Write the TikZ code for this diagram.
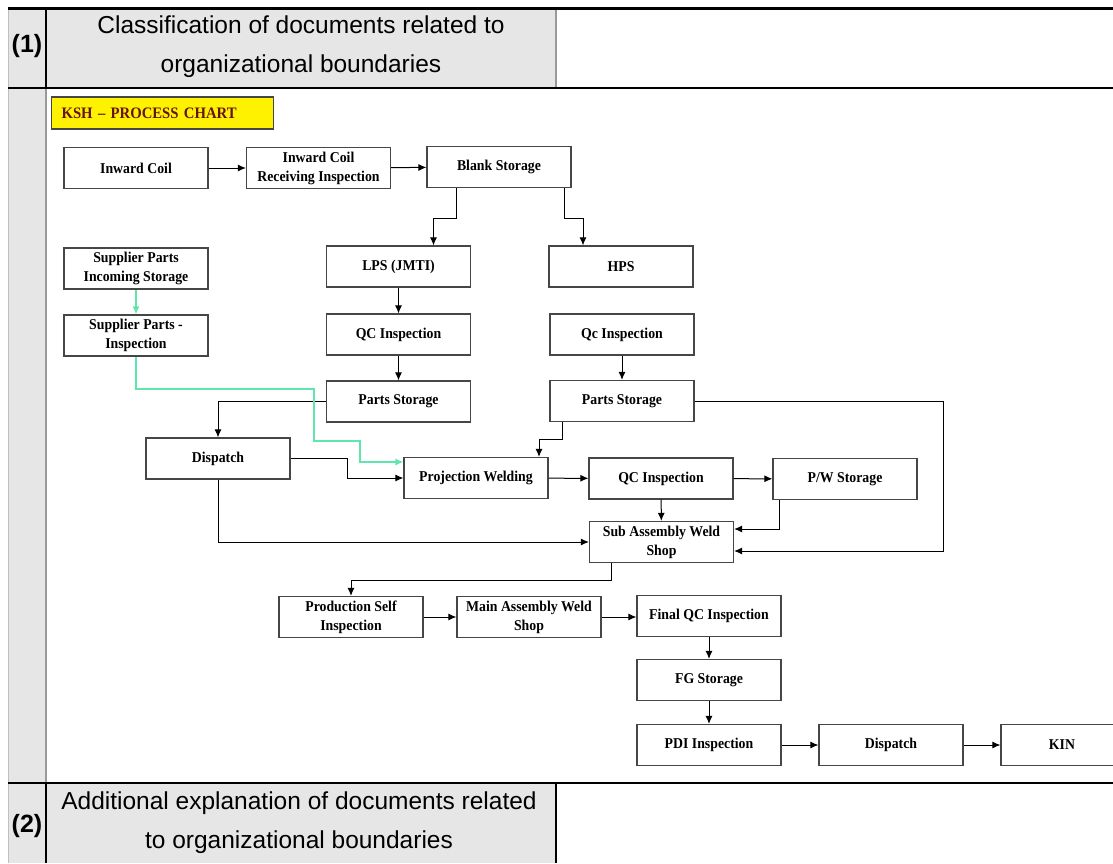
\documentclass[tikz,border=0pt]{standalone}
\usepackage{fontspec}
\setmainfont{Liberation Serif}
\setsansfont{Liberation Sans}
\newfontfamily\chartfont[FakeStretch=0.92, Ligatures=TeX]{Liberation Serif}
\usetikzlibrary{arrows.meta}
\definecolor{cellgray}{RGB}{230,230,230}
\definecolor{boxline}{RGB}{70,70,70}
\definecolor{mint}{RGB}{95,230,175}
\definecolor{titlered}{RGB}{100,20,20}

\begin{document}
\begin{tikzpicture}[x=0.5pt,y=-0.5pt,
    stepbox/.style={draw=boxline, line width=0.6pt, fill=white, minimum width=72pt, minimum height=20.5pt, inner sep=1pt, align=center, font=\chartfont\fontsize{7.5}{9.5}\selectfont\bfseries},
    headtext/.style={align=center, font=\sffamily\fontsize{12.25}{19.5}\selectfont},
    rownum/.style={font=\sffamily\bfseries\fontsize{12.5}{15}\selectfont},
    flow/.style={-{Latex[length=4pt,width=3.5pt]}, line width=0.5pt},
    greenflow/.style={flow, draw=mint, line width=0.6pt}]
  \useasboundingbox (0,0) rectangle (1113,863);
  \clip (0,0) rectangle (1113,863);

  \fill[cellgray] (8,8) rectangle (46,863);
  \fill[cellgray] (46,8) rectangle (556,88);
  \fill[cellgray] (46,783) rectangle (556,863);
  \draw[black!25, line width=0.5pt] (8,8) -- (8,863);
  \draw[line width=0.6pt] (46,8) -- (46,88);
  \draw[black!40, line width=0.6pt] (46,88) -- (46,783);
  \draw[line width=0.6pt] (46,783) -- (46,863);
  \draw[black!40, line width=0.6pt] (556,8) -- (556,88);
  \draw[line width=0.6pt] (556,783) -- (556,863);
  \draw[line width=1.5pt] (8,8) -- (1113,8);
  \draw[line width=0.75pt] (8,88) -- (1113,88);
  \draw[line width=1.1pt] (8,783) -- (556,783);
  \draw[line width=0.75pt] (556,783) -- (1113,783);

  \node (numone) [rownum] at (27,46) {(1)};
  \node (headone) [headtext] at (301,47) {Classification of documents related to\\organizational boundaries};
  \node (numtwo) [rownum] at (27,826) {(2)};
  \node (headtwo) [headtext] at (299,823) {Additional explanation of documents related\\to organizational boundaries};

  \node (title) [draw=boxline, line width=0.6pt, fill=yellow, anchor=west, text width=101pt, inner xsep=5pt, minimum height=16pt, align=left, text=titlered, font=\chartfont\fontsize{8}{9}\selectfont\bfseries] at (51,113) {KSH – PROCESS CHART};

  \begin{scope}[every node/.style={stepbox}]
    \node (inwcoil) at (136,168) {Inward Coil};
    \node (recinsp) at (318.5,168) {Inward Coil\\Receiving Inspection};
    \node (blank) at (499,167) {Blank Storage};
    \node (suppstore) at (136,268.5) {Supplier Parts\\Incoming Storage};
    \node (suppinsp) at (136,335.5) {Supplier Parts -\\Inspection};
    \node (lps) at (398.5,266.5) {LPS (JMTI)};
    \node (hps) at (621,266.5) {HPS};
    \node (qcleft) at (398.5,334.5) {QC Inspection};
    \node (qcright) at (622,334.5) {Qc Inspection};
    \node (psleft) at (398.5,401.5) {Parts Storage};
    \node (psright) at (622,401) {Parts Storage};
    \node (displeft) at (218,458.5) {Dispatch};
    \node (projweld) at (476,478) {Projection Welding};
    \node (qcmid) at (661,478.5) {QC Inspection};
    \node (pwstore) at (845,479) {P/W Storage};
    \node (subassy) at (661.5,542) {Sub Assembly Weld\\Shop};
    \node (prodself) at (351,617) {Production Self\\Inspection};
    \node (mainassy) at (529,617) {Main Assembly Weld\\Shop};
    \node (finalqc) at (709,616) {Final QC Inspection};
    \node (fgstore) at (709,680) {FG Storage};
    \node (pdi) at (709,745) {PDI Inspection};
    \node (dispbot) at (891,745) {Dispatch};
    \node (kin) [minimum width=61pt] at (1062,745) {KIN};
  \end{scope}

  \draw[flow] (inwcoil) -- (recinsp);
  \draw[flow] (recinsp) -- (blank);
  \draw[flow] ([xshift=-21.5pt]blank.south) -- ++(0,-15pt) -| ([xshift=17.5pt]lps.north);
  \draw[flow] ([xshift=32.5pt]blank.south) -- ++(0,-15pt) -| ([xshift=-19pt]hps.north);
  \draw[greenflow] (suppstore) -- (suppinsp);
  \draw[flow] (lps) -- (qcleft);
  \draw[flow] (qcleft) -- (psleft);
  \draw[flow] (qcright) -- (psright);
  \draw[flow] (psleft.west) -| (displeft.north);
  \draw[greenflow] (suppinsp.south) |- (314,389) |- (360,441) |- ([yshift=8pt]projweld.west);
  \draw[flow] (displeft.east) -| (347,478) -- (projweld.west);
  \draw[flow] ([xshift=-30pt]psright.south) |- (539,439) -- ([xshift=31.5pt]projweld.north);
  \draw[flow] (projweld) -- (qcmid);
  \draw[flow] (qcmid) -- (pwstore);
  \draw[flow] (qcmid) -- (subassy);
  \draw[flow] ([xshift=-33pt]pwstore.south) |- ([yshift=6.5pt]subassy.east);
  \draw[flow] (psright.east) -| (943,551) -- ([yshift=-4.5pt]subassy.east);
  \draw[flow] (displeft.south) |- (subassy.west);
  \draw[flow] ([xshift=-25pt]subassy.south) -- ++(0,-8.5pt) -| (prodself.north);
  \draw[flow] (prodself) -- (mainassy);
  \draw[flow] (mainassy.east) -- (finalqc.west |- mainassy.east);
  \draw[flow] (finalqc) -- (fgstore);
  \draw[flow] (fgstore) -- (pdi);
  \draw[flow] (pdi) -- (dispbot);
  \draw[flow] (dispbot) -- (kin);
\end{tikzpicture}
\end{document}
